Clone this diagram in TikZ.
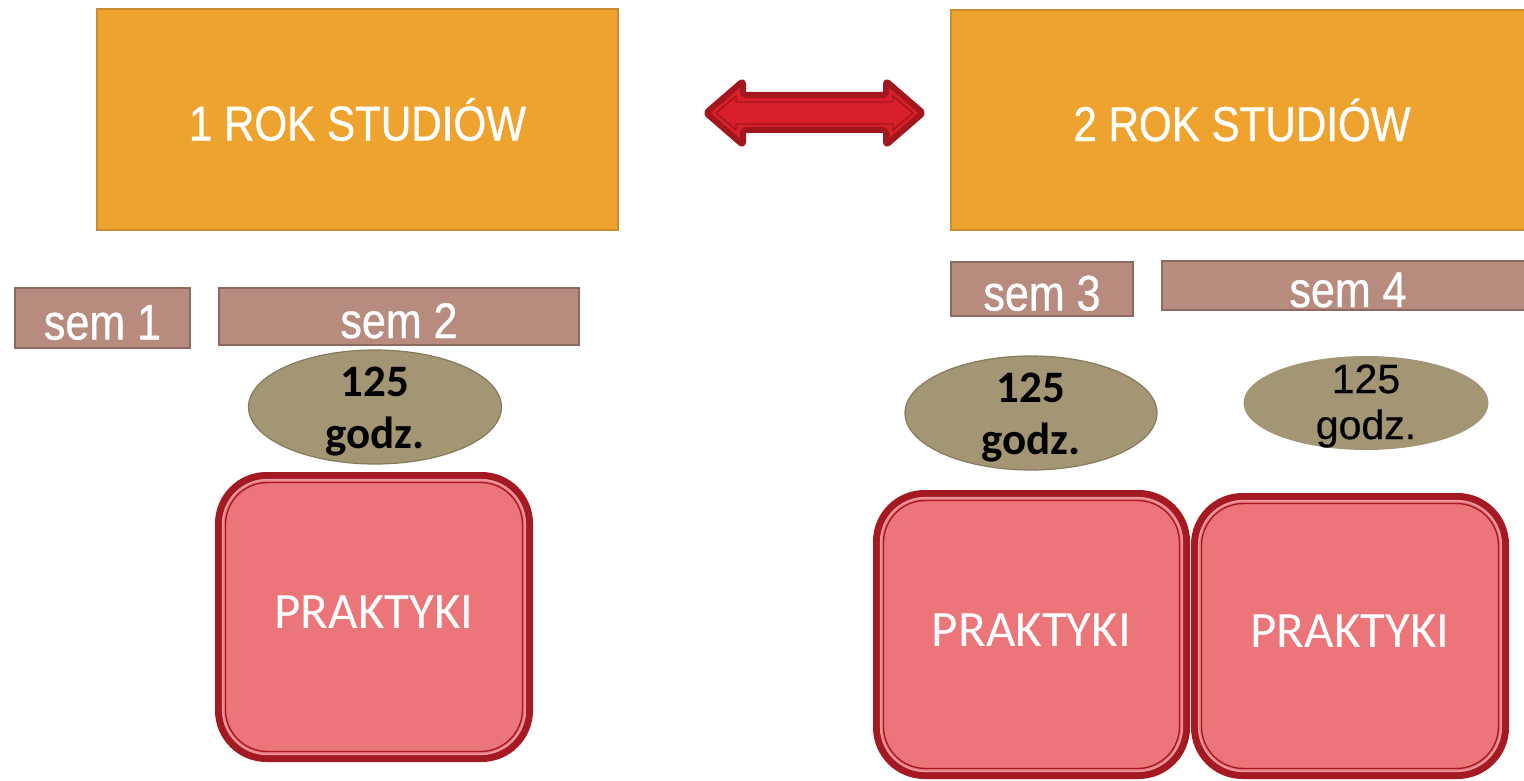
\documentclass[tikz,border=0pt]{standalone}
\usepackage{fontspec}
\setmainfont{Liberation Sans}
\newfontfamily\franklin[FakeStretch=0.86,FakeBold=0.7]{Liberation Sans}
\newfontfamily\plainsans[FakeBold=0.5]{Liberation Sans}
\newfontfamily\calibri{Carlito}
\usetikzlibrary{shapes.geometric}

\definecolor{yearfill}{HTML}{EEA32F}
\definecolor{yearline}{HTML}{C98B2C}
\definecolor{semfill}{HTML}{B78B7E}
\definecolor{semline}{HTML}{8C6A60}
\definecolor{hoursfill}{HTML}{A39674}
\definecolor{hoursline}{HTML}{857A5A}
\definecolor{pracfill}{HTML}{EC757A}
\definecolor{pracline}{HTML}{A51A22}
\definecolor{pracgap}{HTML}{E9999D}
\definecolor{arrowfill}{HTML}{D9202A}
\definecolor{arrowline}{HTML}{A3161E}

\tikzset{
  yearbox/.style={rectangle, draw=yearline, line width=1.5pt, fill=yearfill,
    inner sep=0pt, outer sep=0pt, text=white,
    font=\franklin\fontsize{49}{50}\selectfont},
  sembox/.style={rectangle, draw=semline, line width=1.5pt, fill=semfill,
    inner sep=0pt, outer sep=0pt, text=white, text height=43pt, text depth=0pt,
    font=\franklin\fontsize{50}{52}\selectfont},
  hours/.style={ellipse, draw=hoursline, line width=1.2pt, fill=hoursfill,
    inner sep=0pt, outer sep=0pt},
  hourstext/.style={align=center, inner sep=0pt, text=black,
    font=\calibri\bfseries\fontsize{45}{52}\selectfont},
  hourstextb/.style={align=center, inner sep=0pt, text=black,
    font=\plainsans\fontsize{41}{46}\selectfont},
  pracbox/.style={rectangle, rounded corners=48pt, draw=pracline, line width=7pt,
    fill=pracfill, inner sep=0pt, outer sep=0pt, text=white, text depth=9pt,
    font=\calibri\fontsize{51}{55}\selectfont},
  pracgapline/.style={draw=pracgap, line width=1.6pt, rounded corners=45pt},
  pracinner/.style={draw=pracline, line width=1.4pt, rounded corners=42pt},
  arrowbody/.style={fill=arrowfill, draw=arrowline, line width=6pt,
    rounded corners=3pt, line join=round},
  arrowinner/.style={draw=arrowline, line width=1.4pt, line join=round},
}

\begin{document}
\begin{tikzpicture}[x=1pt, y=-1pt]
  \clip (0,0) rectangle (1524,781);

  % years
  \node[yearbox, minimum width=521, minimum height=221] (y1) at (357.5,119.5) {1 ROK STUDIÓW};
  \node[yearbox, minimum width=582, minimum height=220] (y2) at (1242,120) {2 ROK STUDIÓW};

  % double arrow between the years
  \draw[arrowbody] (706,113) -- (743,81) -- (743,95) -- (886,95) -- (886,81)
    -- (923,113) -- (886,145) -- (886,130) -- (743,130) -- (743,145) -- cycle;
  \draw[arrowinner] (716,113) -- (736,96) -- (736,102) -- (893,102) -- (893,96)
    -- (913,113) -- (893,130) -- (893,124) -- (736,124) -- (736,130) -- cycle;

  % semesters
  \node[sembox, minimum width=175, minimum height=60] (s1) at (102.5,318) {sem 1};
  \node[sembox, minimum width=360, minimum height=57] (s2) at (399,316.5) {sem 2};
  \node[sembox, minimum width=182, minimum height=54] (s3) at (1042,289) {sem 3};
  \node[sembox, minimum width=372, minimum height=49] (s4) at (1348,285.5) {sem 4};

  % hours
  \node[hours, minimum width=253, minimum height=114] (h1) at (375,407) {};
  \node[hourstext] (h1t) at (375,412) {125\\godz.};
  \node[hours, minimum width=252, minimum height=114] (h2) at (1031,413) {};
  \node[hourstext] (h2t) at (1031,418) {125\\godz.};
  \node[hours, draw=none, minimum width=245, minimum height=94] (h3) at (1366,403) {};
  \node[hourstextb] (h3t) at (1366,406) {125\\godz.};

  % placements
  \node[pracbox, minimum width=311, minimum height=283] (p1) at (374,617) {PRAKTYKI};
  \node[pracbox, minimum width=310, minimum height=282] (p2) at (1031.5,634.5) {PRAKTYKI};
  \node[pracbox, minimum width=311, minimum height=279] (p3) at (1350,636) {PRAKTYKI};
  \foreach \p in {p1,p2,p3}{
    \draw[pracgapline] ([shift={(4.2,-4.2)}]\p.south west) rectangle ([shift={(-4.2,4.2)}]\p.north east);
    \draw[pracinner] ([shift={(7,-7)}]\p.south west) rectangle ([shift={(-7,7)}]\p.north east);
  }
\end{tikzpicture}
\end{document}
